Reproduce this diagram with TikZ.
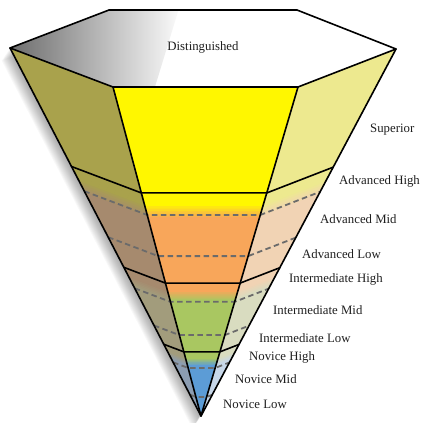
\documentclass[tikz,border=0pt]{standalone}
\usepackage{fontspec}
\setmainfont{Liberation Serif}
\usetikzlibrary{calc}
\definecolor{SL}{HTML}{A9A24C}
\definecolor{SF}{HTML}{FFF700}
\definecolor{SR}{HTML}{EDE98F}
\definecolor{AL}{HTML}{A68A6E}
\definecolor{AF}{HTML}{F8A65A}
\definecolor{AR}{HTML}{F1D3B4}
\definecolor{IL}{HTML}{A29C7C}
\definecolor{IF}{HTML}{A9C761}
\definecolor{IR}{HTML}{D9DCC0}
\definecolor{NL}{HTML}{8C9DB2}
\definecolor{NF}{HTML}{5C9CD6}
\definecolor{NR}{HTML}{C7D7E9}
\definecolor{txt}{HTML}{1E1E1E}
\newcommand\bandfaces[5]{%
  \fill[fill=#3] ($(A)!#1!(L)$) -- ($(A)!#1!(BL)$) -- ($(A)!#2!(BL)$) -- ($(A)!#2!(L)$) -- cycle;
  \fill[fill=#4] ($(A)!#1!(BL)$) -- ($(A)!#1!(BR)$) -- ($(A)!#2!(BR)$) -- ($(A)!#2!(BL)$) -- cycle;
  \fill[fill=#5] ($(A)!#1!(BR)$) -- ($(A)!#1!(R)$) -- ($(A)!#2!(R)$) -- ($(A)!#2!(BR)$) -- cycle;
}
\newcommand\secline[2]{%
  \draw[#2] ($(A)!#1!(L)$) -- ($(A)!#1!(BL)$) -- ($(A)!#1!(BR)$) -- ($(A)!#1!(R)$);
}
\begin{document}
\begin{tikzpicture}[x=1pt,y=-1pt,
  edge/.style={black,line width=1.6pt,line join=round,line cap=round},
  dashln/.style={draw=black!58,line width=1.8pt,dash pattern=on 5.5pt off 3.5pt},
  lbl/.style={font=\fontsize{12.8}{15}\selectfont,text=txt,inner sep=0pt,anchor=west}]
\useasboundingbox (0,0) rectangle (421,423);
\coordinate (A) at (201,416);
\coordinate (L) at (10,48);
\coordinate (TL) at (109,10);
\coordinate (TR) at (297,10);
\coordinate (R) at (396,49);
\coordinate (BR) at (298,87);
\coordinate (BL) at (113,87);
% soft shadow
\foreach \k in {1,...,14}{
  \fill[black,opacity=0.026] (10-0.6*\k,48+0.9*\k) -- (109-0.6*\k,10+0.9*\k) -- (297-0.6*\k,10+0.9*\k)
     -- (396-0.6*\k,49+0.9*\k) -- (201-0.6*\k,416+0.9*\k) -- cycle;
}
% bands
\bandfaces{1}{0.678}{SL}{SF}{SR}
\bandfaces{0.678}{0.404}{AL}{AF}{AR}
\bandfaces{0.404}{0.195}{IL}{IF}{IR}
\bandfaces{0.195}{0}{NL}{NF}{NR}
% colour transitions at the top of each band
\foreach \st/\dd/\pa/\pb/\pc/\qa/\qb/\qc in
  {0.678/0.008/SL/SF/SR/AL/AF/AR,
   0.404/0.0055/AL/AF/AR/IL/IF/IR,
   0.195/0.0045/IL/IF/IR/NL/NF/NR}{
  \foreach \i in {0,...,9}{
    \pgfmathsetmacro\sa{\st-\i*\dd}
    \pgfmathsetmacro\sb{\st-(\i+1)*\dd-0.002}
    \pgfmathtruncatemacro\pp{min(100,max(0,(9-\i)*20))}
    \colorlet{tmpa}{\pa!\pp!\qa}
    \colorlet{tmpb}{\pb!\pp!\qb}
    \colorlet{tmpc}{\pc!\pp!\qc}
    \bandfaces{\sa}{\sb}{tmpa}{tmpb}{tmpc}
  }
}
% top face
\begin{scope}
  \clip (L) -- (TL) -- (TR) -- (R) -- (BR) -- (BL) -- cycle;
  \fill[white] (0,0) rectangle (421,100);
  \shade[left color=black!68,right color=white,rotate around={-17:(10,48)}] (10,-60) rectangle (160,160);
\end{scope}
% dashed sublevel lines
\secline{0.611}{dashln}
\secline{0.486}{dashln}
\secline{0.347}{dashln}
\secline{0.246}{dashln}
\secline{0.146}{dashln}
\secline{0.058}{dashln}
% solid edges
\draw[edge] (L) -- (TL) -- (TR) -- (R) -- (BR) -- (BL) -- cycle;
\draw[edge] (L) -- (A) -- (R);
\draw[edge] (BL) -- (A) -- (BR);
\secline{0.678}{edge}
\secline{0.404}{edge}
\secline{0.195}{edge}
% labels
\node[lbl,anchor=center] (dist) at (203,47) {Distinguished};
\node[lbl] (sup) at (370,130) {Superior};
\node[lbl] (ah) at (339,181) {Advanced High};
\node[lbl] (am) at (320,219) {Advanced Mid};
\node[lbl] (al) at (302,254) {Advanced Low};
\node[lbl] (ih) at (289,279) {Intermediate High};
\node[lbl] (im) at (273,310) {Intermediate Mid};
\node[lbl] (il) at (259,338) {Intermediate Low};
\node[lbl] (nh) at (249,357) {Novice High};
\node[lbl] (nm) at (235,379) {Novice Mid};
\node[lbl] (nl) at (223,404) {Novice Low};
\end{tikzpicture}
\end{document}
